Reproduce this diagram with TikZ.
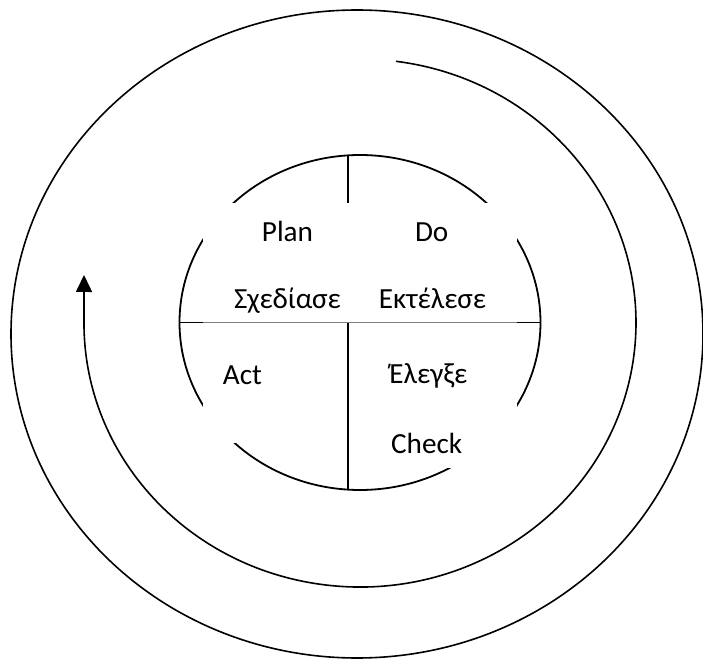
\documentclass[tikz,border=0pt]{standalone}
\usepackage{fontspec}
\setmainfont{Carlito}
\usetikzlibrary{arrows.meta}

\begin{document}
\begin{tikzpicture}[
x = 0.5pt, y = 0.5pt,
line width = 0.8pt,
every node/.style = {font = \fontsize{14.6}{17}\selectfont, inner sep = 0pt, anchor = base},
cover/.style = {fill = white, draw = none}
]
\useasboundingbox (0,0) rectangle (703,660);

% outer ring
\draw (357,326) ellipse [x radius = 346, y radius = 324];

% spiral with the arrow going up on the left
\coordinate (start) at (396,598.7);
\coordinate (tip) at (84,385);
\draw[-{Triangle[width = 8pt, length = 8.5pt]}] (start)
    arc [start angle = 82.5, end angle = -180, x radius = 276, y radius = 264] -- (tip);

% the cycle itself
\draw[line width = 0.9pt] (360,337.5) ellipse [x radius = 180.5, y radius = 167.5];

% text boxes over the cycle
\fill[cover] (203,457) rectangle (517,338.5);
\fill[cover] (203,315) rectangle (340,217);
\fill[cover] (356,315) rectangle (517,192);

% cross
\coordinate (n) at (348,504.7);
\coordinate (s) at (348,170.3);
\coordinate (w) at (179,337.5);
\coordinate (e) at (540.5,337.5);
\draw (n) -- (348,457);
\draw (348,337.5) -- (s);
\draw (w) -- (203,337.5);
\draw (517,337.5) -- (e);
\draw[gray, line width = 0.4pt] (203,337.5) -- (517,337.5);

\node (plan) at (287.5,418.3) {Plan};
\node (do) at (431.7,418.3) {Do};
\node (sxediase) at (287.5,351.7) {Σχεδίασε};
\node (ektelese) at (432.5,351.7) {Εκτέλεσε};
\node (act) at (242.5,275) {Act};
\node (elegxe) at (428.3,276.7) {Έλεγξε};
\node (check) at (426.7,206.7) {Check};
\end{tikzpicture}
\end{document}
